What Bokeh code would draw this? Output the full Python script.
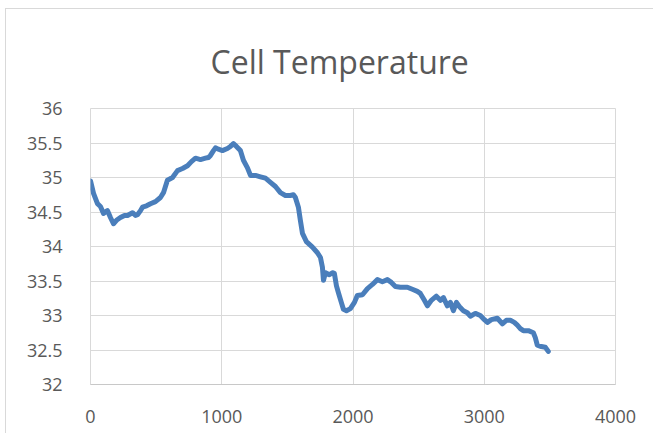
from bokeh.plotting import figure
from bokeh.models import FixedTicker
from bokeh.embed import file_html
from bokeh.resources import INLINE

title_text = "Cell Temperature"

time_s = [0, 23, 53, 76, 99, 129, 152, 175, 198, 228, 259, 282, 320, 343, 358, 381, 396,
          427, 457, 495, 533, 556, 586, 625, 663, 701, 739, 769, 800, 838, 876, 899, 914,
          937, 952, 975, 1005, 1043, 1066, 1089, 1112, 1142, 1165, 1196, 1219, 1257, 1295,
          1333, 1371, 1409, 1447, 1485, 1523, 1546, 1561, 1584, 1599, 1615, 1645, 1691,
          1729, 1752, 1767, 1775, 1790, 1820, 1843, 1858, 1874, 1889, 1911, 1927, 1950,
          1980, 2011, 2033, 2072, 2110, 2148, 2186, 2224, 2262, 2292, 2323, 2361, 2414,
          2452, 2490, 2513, 2544, 2567, 2597, 2635, 2666, 2689, 2719, 2742, 2765, 2788,
          2810, 2841, 2871, 2894, 2932, 2970, 3001, 3024, 3054, 3100, 3138, 3168, 3199,
          3229, 3252, 3275, 3298, 3336, 3374, 3389, 3404, 3435, 3465, 3488]

temperature = [34.95, 34.77, 34.62, 34.58, 34.48, 34.52, 34.42, 34.33, 34.38, 34.42, 34.45,
               34.45, 34.49, 34.45, 34.46, 34.52, 34.57, 34.59, 34.62, 34.65, 34.71, 34.78,
               34.96, 35.00, 35.10, 35.13, 35.17, 35.23, 35.28, 35.26, 35.28, 35.29, 35.32,
               35.39, 35.43, 35.41, 35.39, 35.42, 35.45, 35.49, 35.45, 35.39, 35.25, 35.14,
               35.03, 35.03, 35.01, 34.99, 34.93, 34.87, 34.78, 34.74, 34.74, 34.75, 34.71,
               34.57, 34.38, 34.19, 34.07, 33.99, 33.91, 33.84, 33.70, 33.51, 33.62, 33.59,
               33.62, 33.61, 33.43, 33.33, 33.19, 33.09, 33.07, 33.10, 33.19, 33.29, 33.30,
               33.39, 33.45, 33.52, 33.49, 33.52, 33.48, 33.42, 33.41, 33.41, 33.38, 33.35,
               33.32, 33.22, 33.14, 33.22, 33.28, 33.22, 33.26, 33.14, 33.19, 33.07, 33.19,
               33.13, 33.07, 33.04, 32.99, 33.03, 33.00, 32.94, 32.90, 32.94, 32.96, 32.88,
               32.93, 32.93, 32.90, 32.86, 32.81, 32.78, 32.78, 32.75, 32.68, 32.57, 32.55,
               32.54, 32.48]

x_ticks = [0, 1000, 2000, 3000, 4000]
x_tick_labels = ["0", "1000", "2000", "3000", "4000"]
y_ticks = [32, 32.5, 33, 33.5, 34, 34.5, 35, 35.5, 36]
y_tick_labels = ["32", "32.5", "33", "33.5", "34", "34.5", "35", "35.5", "36"]

FONT = "Open Sans"
TEXT_COLOR = "#595959"
GRID_COLOR = "#D9D9D9"

p = figure(width=648, height=425, output_backend="svg", toolbar_location=None,
           x_range=(x_ticks[0], x_ticks[-1]), y_range=(y_ticks[0], y_ticks[-1]),
           min_border_left=84, min_border_right=39, min_border_top=99,
           min_border_bottom=50, title=title_text)
p.styles = {"margin-left": "5px", "margin-top": "8px",
            "border-left": "1px solid #D9D9D9", "border-top": "1px solid #D9D9D9"}

p.title.align = "left"
p.title.offset = 120
p.title.standoff = 51
p.title.text_font = FONT
p.title.text_font_size = "32px"
p.title.text_font_style = "normal"
p.title.text_color = TEXT_COLOR

p.line(time_s, temperature, line_color="#4A7EBB", line_width=5,
       line_join="round", line_cap="round")

p.xaxis.ticker = FixedTicker(ticks=x_ticks)
p.yaxis.ticker = FixedTicker(ticks=y_ticks)
p.xaxis.major_label_overrides = {t: l for t, l in zip(x_ticks, x_tick_labels)}
p.yaxis.major_label_overrides = {t: l for t, l in zip(y_ticks, y_tick_labels)}
p.xgrid.ticker = FixedTicker(ticks=x_ticks)
p.ygrid.ticker = FixedTicker(ticks=y_ticks)

for ax in (p.xaxis[0], p.yaxis[0]):
    ax.major_tick_line_color = None
    ax.minor_tick_line_color = None
    ax.major_label_text_font = FONT
    ax.major_label_text_font_size = "18px"
    ax.major_label_text_color = TEXT_COLOR
p.xaxis.axis_line_color = "#C8C8C8"
p.yaxis.axis_line_color = None
p.xaxis.major_label_standoff = 19
p.yaxis.major_label_standoff = 22

p.xgrid.grid_line_color = GRID_COLOR
p.ygrid.grid_line_color = GRID_COLOR
p.outline_line_color = GRID_COLOR

open("out.html", "w").write(file_html(p, INLINE))
